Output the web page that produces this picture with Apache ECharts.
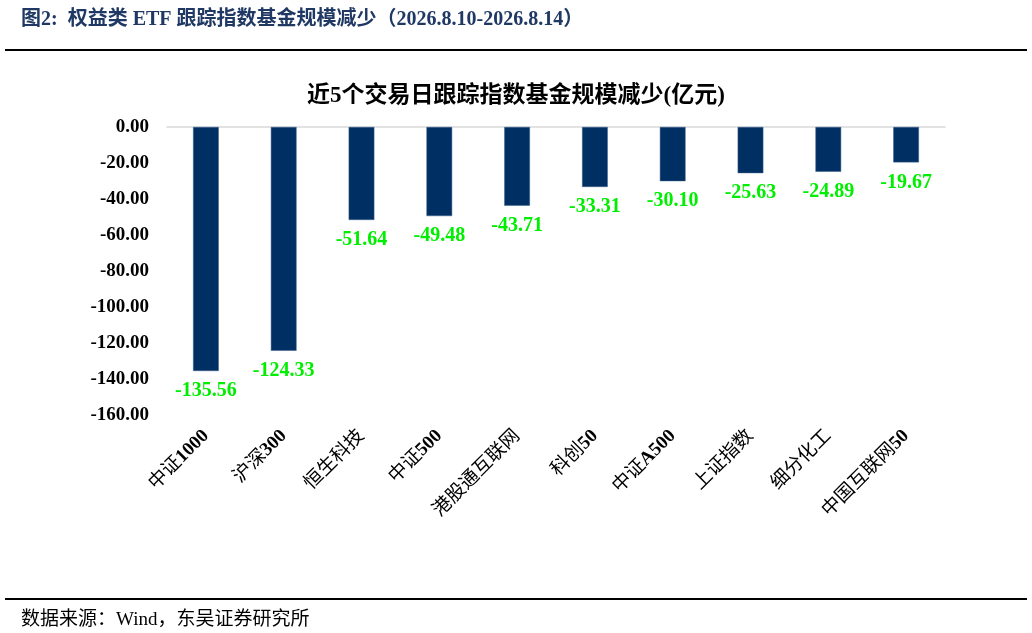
<!DOCTYPE html>
<html><head><meta charset="utf-8">
<script src="https://cdn.jsdelivr.net/npm/echarts@6/dist/echarts.min.js"></script>
<style>html,body{margin:0;padding:0;background:#fff}#c{width:1032px;height:633px}</style>
</head><body><div id="c"></div>
<script>
const categories = ['中证1000','沪深300','恒生科技','中证500','港股通互联网','科创50','中证A500','上证指数','细分化工','中国互联网50'];
const values = [-135.56,-124.33,-51.64,-49.48,-43.71,-33.31,-30.10,-25.63,-24.89,-19.67];
const yTicks = {min:-160, max:0, interval:20};
const headerText = '图2:  权益类 ETF 跟踪指数基金规模减少（2026.8.10-2026.8.14）';
const chartTitle = '近5个交易日跟踪指数基金规模减少(亿元)';
const sourceText = '数据来源：Wind，东吴证券研究所';

const serif = '"Liberation Serif","Times New Roman","Noto Sans CJK SC",serif';
function catFormatter(v){
  // CJK runs in regular weight, Latin/digit runs in bold
  return v.replace(/([A-Za-z0-9]+)|([^A-Za-z0-9]+)/g,(m,a,b)=> a ? '{b|'+a+'}' : '{c|'+b+'}');
}
const chart = echarts.init(document.getElementById('c'));
chart.setOption({
  backgroundColor:'#fff',
  animation:false,
  title:[
    {text:headerText,left:16,top:5,textStyle:{fontFamily:serif,fontSize:20,fontWeight:'bold',color:'#1F3864'}},
    {text:chartTitle,left:'center',top:80,textStyle:{fontFamily:serif,fontSize:23,fontWeight:'bold',color:'#000'}},
    {text:sourceText,left:16,top:606,textStyle:{fontFamily:serif,fontSize:19,fontWeight:'normal',color:'#000'}}
  ],
  graphic:[
    {type:'rect',shape:{x:5,y:49,width:1022,height:2},style:{fill:'#000'}},
    {type:'rect',shape:{x:5,y:598,width:1022,height:2},style:{fill:'#000'}}
  ],
  grid:{left:167,right:87,top:127,bottom:218,containLabel:false},
  xAxis:[{
    type:'category',data:categories,position:'top',
    axisLine:{show:true,lineStyle:{color:'#d9d9d9',width:1.5}},
    axisTick:{show:false},axisLabel:{show:false}
  },{
    type:'category',data:categories,position:'bottom',
    axisLine:{show:false},axisTick:{show:false},
    axisLabel:{rotate:45,fontFamily:serif,fontSize:19,color:'#000',margin:18,interval:0,
      formatter:catFormatter,
      rich:{
        b:{fontFamily:serif,fontSize:19,fontWeight:'bold',color:'#000'},
        c:{fontFamily:serif,fontSize:19,fontWeight:'normal',color:'#000'}
      }}
  }],
  yAxis:{
    type:'value',min:yTicks.min,max:yTicks.max,interval:yTicks.interval,
    axisLine:{show:false},axisTick:{show:false},splitLine:{show:false},
    axisLabel:{fontFamily:serif,fontSize:19,fontWeight:'bold',color:'#000',margin:18,
      formatter:v=>v.toFixed(2)}
  },
  series:[{
    type:'bar',data:values,barWidth:'33%',xAxisIndex:0,
    itemStyle:{color:'#003063',borderColor:'#3d5f8a',borderWidth:0.5},
    label:{show:true,position:'bottom',distance:10,fontFamily:serif,fontSize:20,fontWeight:'bold',color:'#00EE00',
      formatter:p=>p.value.toFixed(2)}
  }]
});
</script></body></html>
